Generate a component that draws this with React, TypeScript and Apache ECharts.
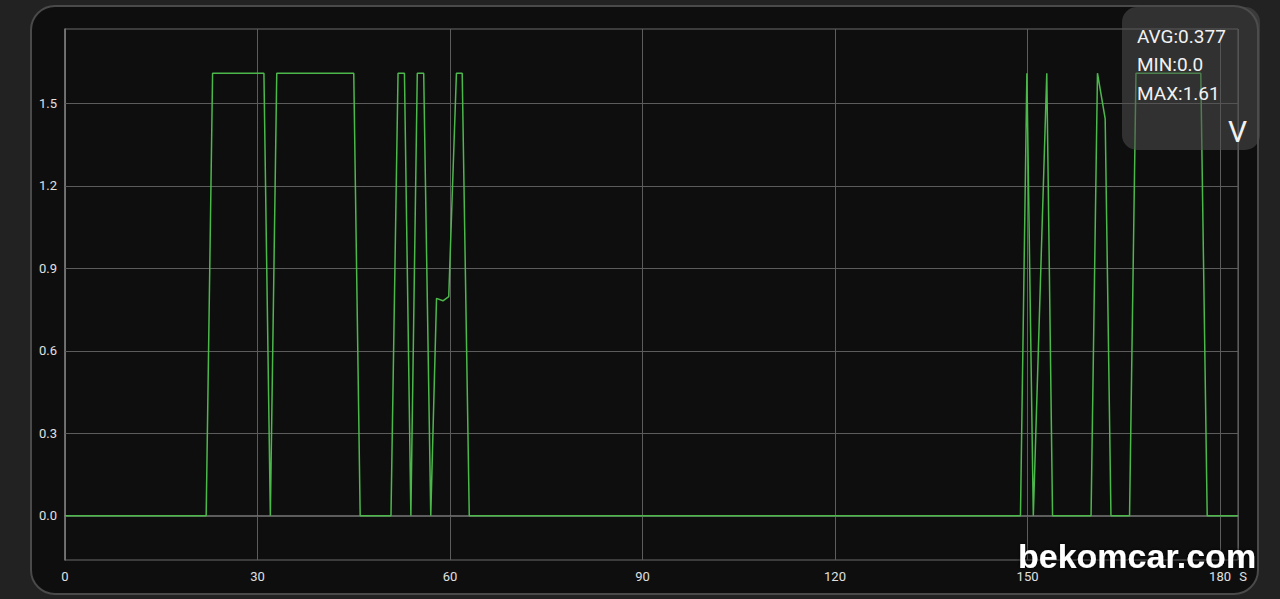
import React, { useEffect, useRef } from "react";
import * as echarts from "echarts";

// time (s) and voltage samples
const times: number[] = [0, 22, 23, 31, 32, 33, 45, 46, 50.8, 51.9, 52.9, 53.9, 54.9, 55.9, 57, 57.9, 58.9, 59.8, 61, 61.9, 63, 148.9, 149.9, 150.9, 153, 153.9, 159.9, 160.9, 162.1, 163, 165.9, 166.9, 177, 178, 182.8];
const volts: number[] = [0, 0, 1.61, 1.61, 0, 1.61, 1.61, 0, 0, 1.61, 1.61, 0, 1.61, 1.61, 0, 0.791, 0.782, 0.797, 1.61, 1.61, 0, 0, 1.61, 0, 1.61, 0, 0, 1.61, 1.445, 0, 0, 1.61, 1.61, 0, 0];
const yTicks: number[] = [0, 0.3, 0.6, 0.9, 1.2, 1.5];
const xTickInterval = 30;
const statLines: string[] = ["AVG:0.377", "MIN:0.0", "MAX:1.61"];
const unitLabel = "V";
const xUnit = "S";
const watermark = "bekomcar.com";

export default function App() {
  const ref = useRef<HTMLDivElement>(null);
  useEffect(() => {
    const chart = echarts.init(ref.current!, null, { renderer: "svg" });
    const data = times.map((t, i) => [t, volts[i]]);
    const maxV = Math.max(...volts);
    const minV = Math.min(...volts);
    const pad = (maxV - minV) * 0.1;
    chart.setOption({
      animation: false,
      backgroundColor: "#222222",
      textStyle: { fontFamily: "Roboto" },
      graphic: [
        {
          type: "rect",
          z: -10,
          shape: { x: 31, y: 6, width: 1227, height: 588, r: 24 },
          style: { fill: "#0e0e0e", stroke: "#4a4a4a", lineWidth: 2 },
        },
        {
          type: "rect",
          z: 100,
          shape: { x: 1122, y: 7, width: 138, height: 143, r: 15 },
          style: { fill: "rgba(78,78,78,0.55)" },
        },
        ...statLines.map((s, i) => ({
          type: "text",
          z: 101,
          x: 1137,
          y: 36 + i * 28.5,
          style: { text: s, fill: "#f2f2f2", font: "19px Roboto", textVerticalAlign: "middle" },
        })),
        {
          type: "text",
          z: 101,
          x: 1247,
          y: 131,
          style: { text: unitLabel, fill: "#f2f2f2", font: "30px Roboto", textAlign: "right", textVerticalAlign: "middle" },
        },
        {
          type: "text",
          z: 50,
          x: 1243,
          y: 576,
          style: { text: xUnit, fill: "#e0e0e0", font: "13px Roboto", textAlign: "center", textVerticalAlign: "middle" },
        },
        {
          type: "text",
          z: 110,
          x: 1018,
          y: 573,
          style: {
            text: watermark,
            fill: "#ffffff",
            font: "bold 34px 'Liberation Sans'",
            textVerticalAlign: "bottom",
            textShadowColor: "rgba(0,0,0,0.8)",
            textShadowBlur: 4,
          },
        },
      ],
      grid: {
        left: 65,
        right: 42,
        top: 29,
        bottom: 39,
        show: true,
        borderColor: "#6a6a6a",
        borderWidth: 1,
      },
      xAxis: {
        type: "value",
        min: 0,
        max: times[times.length - 1],
        interval: xTickInterval,
        axisLine: { show: true, lineStyle: { color: "#7a7a7a", width: 1.5 } },
        axisTick: { show: false },
        axisLabel: { color: "#e0e0e0", fontSize: 13, margin: 10, showMaxLabel: false },
        splitLine: { show: true, lineStyle: { color: "#5c5c5c", width: 1 } },
      },
      yAxis: {
        type: "value",
        min: minV - pad,
        max: maxV + pad,
        axisLine: { show: true, lineStyle: { color: "#7a7a7a", width: 1.5 } },
        axisTick: { show: false },
        axisLabel: {
          color: "#e0e0e0",
          fontSize: 13,
          margin: 8,
          customValues: yTicks,
          formatter: (v: number) => v.toFixed(1),
        },
        splitLine: { show: false },
      },
      series: [
        {
          type: "line",
          data,
          symbol: "none",
          lineStyle: { color: "#4cb84c", width: 1.5 },
          markLine: {
            silent: true,
            symbol: "none",
            label: { show: false },
            lineStyle: { color: "#5c5c5c", width: 1, type: "solid" },
            data: yTicks.map((v) => ({ yAxis: v })),
            z: 1,
          },
        },
      ],
    });
    return () => chart.dispose();
  }, []);
  return (
    <div style={{ position: "fixed", left: 0, top: 0, width: 1280, height: 599, background: "#222" }}>
      <div ref={ref} style={{ width: 1280, height: 599 }} />
    </div>
  );
}
